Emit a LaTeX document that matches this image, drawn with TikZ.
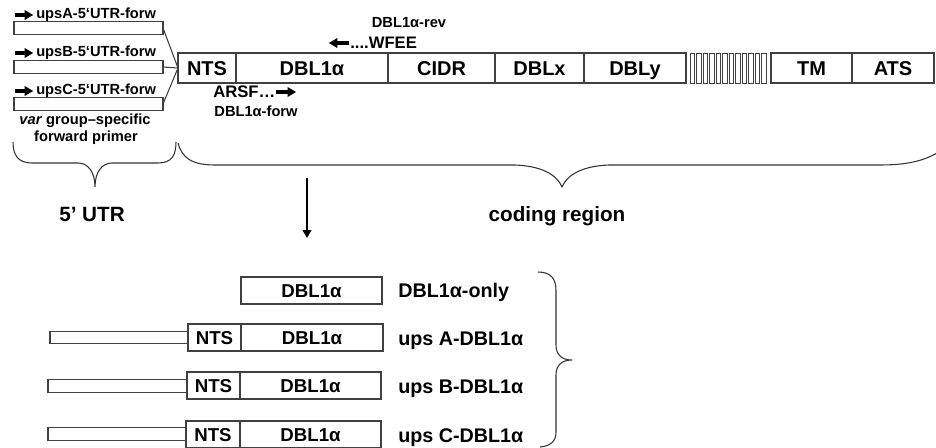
\documentclass[tikz,border=0pt]{standalone}
\usepackage{fontspec}
\setmainfont{Liberation Sans}
\usetikzlibrary{arrows.meta}
\newcommand{\fsz}[1]{\fontsize{#1}{#1}\selectfont}
\begin{document}
\begin{tikzpicture}[x=0.75pt,y=-0.75pt,
  ln/.style={draw=black!75, line width=0.8pt},
  seg/.style={ln, rectangle, inner sep=0pt, outer sep=0pt, minimum height=22.5pt, text height=10.7pt, text depth=0pt, font=\bfseries\fsz{15pt}},
  bseg/.style={ln, rectangle, inner sep=0pt, outer sep=0pt, minimum height=20.25pt, text height=10pt, text depth=0pt, font=\bfseries\fsz{14pt}},
  primer/.style={ln, rectangle, inner sep=0pt, outer sep=0pt, minimum width=111.75pt, minimum height=9.375pt},
  utr/.style={ln, rectangle, inner sep=0pt, outer sep=0pt, minimum height=9.5pt},
  small/.style={inner sep=0pt, font=\bfseries\fsz{11pt}},
  mid/.style={inner sep=0pt, font=\bfseries\fsz{12.5pt}},
  big/.style={inner sep=0pt, font=\bfseries\fsz{15.5pt}},
  lbl/.style={inner sep=0pt, anchor=base west, font=\bfseries\fsz{14.8pt}},
  parrow/.style={line width=2.4pt, -{Triangle[length=6.5pt,width=7pt]}},
  brace/.style={draw=black!80, line width=0.8pt},
]
\useasboundingbox (0,0) rectangle (936,447);

% main gene bar
\node[seg, minimum width=43.5pt]  (nts)  at (207,68)   {NTS};
\node[seg, minimum width=114pt]   (dbl)  at (312,68)   {DBL1α};
\node[seg, minimum width=80.25pt] (cidr) at (441.5,68) {CIDR};
\node[seg, minimum width=66.75pt] (dblx) at (539.5,68) {DBLx};
\node[seg, minimum width=76.5pt]  (dbly) at (635,68)   {DBLy};
\node[seg, minimum width=60.75pt] (tm)   at (811.5,68) {TM};
\node[seg, minimum width=61.5pt]  (ats)  at (893,68)   {ATS};
\foreach \i in {0,...,11} \draw[ln, line width=0.6pt] ({690+\i*6.5},53) rectangle ++(4.5,30);

% var group-specific forward primers
\node[primer] (pa) at (88.5,28)  {};
\node[primer] (pb) at (88.5,67)  {};
\node[primer] (pc) at (88.5,104) {};
\draw[ln] (pa.east) -- (nts.west);
\draw[ln] (pb.east) -- (nts.west);
\draw[ln] (pc.east) -- (nts.west);

\node[small, anchor=west] (la) at (36,15) {upsA-5‘UTR-forw};
\node[small, anchor=west] (lb) at (36,53) {upsB-5‘UTR-forw};
\node[small, anchor=west] (lc) at (36,91) {upsC-5‘UTR-forw};
\draw[parrow] ([xshift=-15.75pt]la.west) -- ([xshift=-2pt]la.west);
\draw[parrow] ([xshift=-15.75pt]lb.west) -- ([xshift=-2pt]lb.west);
\draw[parrow] ([xshift=-15.75pt]lc.west) -- ([xshift=-2pt]lc.west);

\node[small] (vg) at (85,121) {\textit{var} group–specific};
\node[small] (fp) at (86,138) {forward primer};

% DBL1alpha primers
\node[small] (rev) at (409,23) {DBL1α-rev};
\node[mid, anchor=west] (wfee) at (350,43) {....WFEE};
\draw[parrow] ([xshift=-0.5pt]wfee.west) -- ++(-15.5pt,0);
\node[mid, anchor=west] (arsf) at (213,92) {ARSF…};
\draw[parrow] ([xshift=0.5pt]arsf.east) -- ++(15pt,0);
\node[small] (fwd) at (256,111) {DBL1α-forw};

% braces
\draw[brace] (13,142) .. controls (13,155) and (18,163) .. (32,163) -- (78,163)
  .. controls (88,163) and (95,172) .. (95,187)
  .. controls (95,172) and (102,163) .. (112,163) -- (158,163)
  .. controls (172,163) and (176,155) .. (176,142);
\draw[brace] (178,143) .. controls (182,158) and (192,165) .. (215,165) -- (515,165)
  .. controls (542,166) and (557,175) .. (562,187)
  .. controls (567,175) and (582,166) .. (609,165) -- (880,165)
  .. controls (910,165) and (928,160) .. (945,148);
\node[big, anchor=base] (utrlbl) at (92,221) {5’ UTR};
\node[big, anchor=base] (codlbl) at (557,221) {coding region};

% down arrow
\coordinate (arrS) at (307,178);
\coordinate (arrE) at (307,238);
\draw[line width=2.2pt, -{Triangle[length=6pt,width=6.5pt]}] (arrS) -- (arrE);

% bottom constructs
\node[bseg, minimum width=105.75pt] (only) at (311.5,290.5) {DBL1α};

\node[utr, minimum width=103.5pt]   (ua)   at (119,337.5)   {};
\node[bseg, minimum width=39.75pt]  (ntsa) at (214.5,337.5) {NTS};
\node[bseg, minimum width=106.5pt]  (dbla) at (312,337.5)   {DBL1α};

\node[utr, minimum width=104.25pt]  (ub)   at (117.5,386)   {};
\node[bseg, minimum width=39.75pt]  (ntsb) at (213.5,385.5) {NTS};
\node[bseg, minimum width=105.75pt] (dblb) at (310.5,385.5) {DBL1α};

\node[utr, minimum width=103.5pt]   (uc)   at (117,434)     {};
\node[bseg, minimum width=40.5pt]   (ntsc) at (213,434.5)   {NTS};
\node[bseg, minimum width=105.75pt] (dblc) at (310.5,434.5) {DBL1α};

\node[lbl] (l1) at (398,297) {DBL1α-only};
\node[lbl] (l2) at (398,345) {ups A-DBL1α};
\node[lbl] (l3) at (398,393) {ups B-DBL1α};
\node[lbl] (l4) at (398,442) {ups C-DBL1α};

\draw[brace] (538,272) .. controls (550,272) and (556,278) .. (556,290) -- (556,345)
  .. controls (556,355) and (562,360) .. (572,360)
  .. controls (562,360) and (556,365) .. (556,375) -- (556,432)
  .. controls (556,442) and (550,446) .. (540,447);
\end{tikzpicture}
\end{document}
